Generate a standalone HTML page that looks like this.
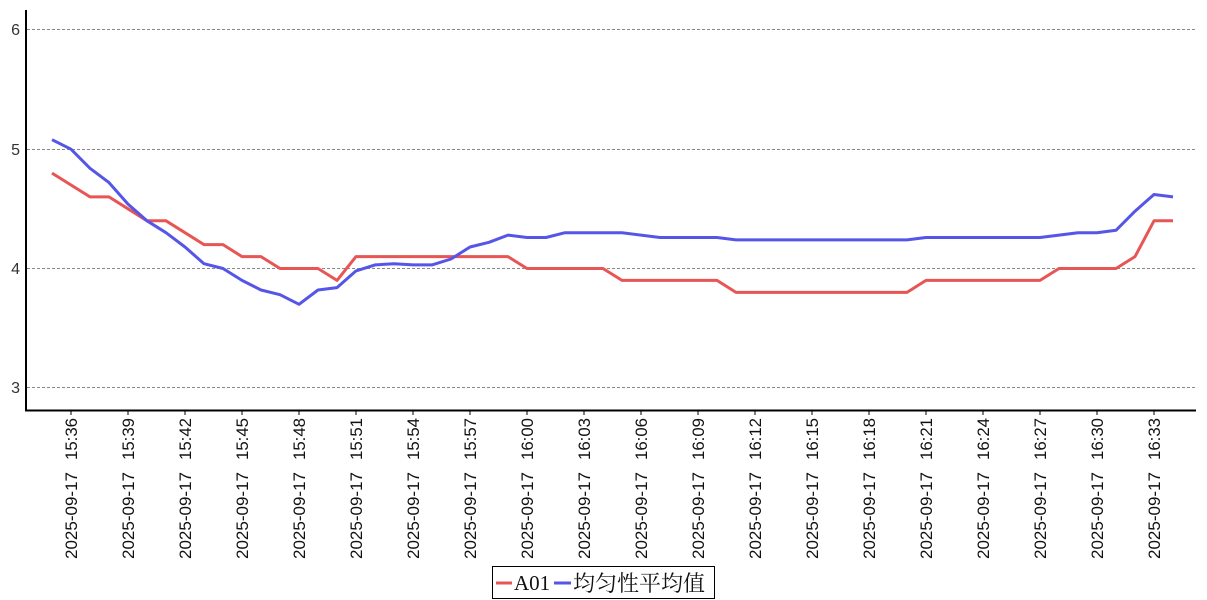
<!DOCTYPE html>
<html><head><meta charset="utf-8"><style>
html,body{margin:0;padding:0;background:#fff;width:1207px;height:600px;overflow:hidden}
svg{display:block}
</style></head><body>
<svg id="s" width="1207" height="600" xmlns="http://www.w3.org/2000/svg" font-family="Liberation Sans, sans-serif">
<g stroke="#888" stroke-dasharray="3,2" stroke-width="1">
<line x1="27" x2="1195" y1="29.5" y2="29.5"/>
<line x1="27" x2="1195" y1="149.5" y2="149.5"/>
<line x1="27" x2="1195" y1="268.5" y2="268.5"/>
<line x1="27" x2="1195" y1="387.5" y2="387.5"/>
</g>
<g stroke="#000" stroke-width="2">
<line x1="26" y1="10" x2="26" y2="411"/>
<line x1="25" y1="410.5" x2="1196" y2="410.5"/>
</g>
<g font-size="16" fill="#333" text-anchor="end">
<text x="20" y="35">6</text><text x="20" y="155">5</text><text x="20" y="274">4</text><text x="20" y="393">3</text>
</g>
<g id="xl" font-family="Liberation Sans, sans-serif" font-size="17" fill="#111"></g>
<polyline id="r" fill="none" stroke="#e85555" stroke-width="3" stroke-linejoin="round"/>
<polyline id="b" fill="none" stroke="#5555e8" stroke-width="3" stroke-linejoin="round"/>
<rect x="492.5" y="566.5" width="222" height="32" fill="#fff" stroke="#000"/>
<line x1="496" x2="512" y1="583" y2="583" stroke="#e85555" stroke-width="3"/>
<text x="514" y="590" font-family="Liberation Serif, Noto Serif CJK SC, serif" font-size="21" fill="#111">A01</text>
<line x1="554" x2="571" y1="583" y2="583" stroke="#5555e8" stroke-width="3"/>
<text x="573" y="591" font-family="Liberation Serif, Noto Serif CJK SC, serif" font-size="22" fill="#111">均匀性平均值</text>
</svg>
<script>
var R=[4.8,4.7,4.6,4.6,4.5,4.4,4.4,4.3,4.2,4.2,4.1,4.1,4.0,4.0,4.0,3.9];
for(var i=16;i<=24;i++)R.push(4.1);for(i=25;i<=29;i++)R.push(4.0);for(i=30;i<=35;i++)R.push(3.9);
for(i=36;i<=45;i++)R.push(3.8);for(i=46;i<=52;i++)R.push(3.9);for(i=53;i<=56;i++)R.push(4.0);R.push(4.1,4.4,4.4);
var B=[5.08,5.0,4.84,4.72,4.54,4.4,4.3,4.18,4.04,4.0,3.9,3.82,3.78,3.7,3.82,3.84,3.98,4.03,4.04,4.03,4.03,4.08,4.18,4.22,4.28,4.26,4.26,4.3,4.3,4.3,4.3,4.28,4.26,4.26,4.26,4.26];
for(i=36;i<=45;i++)B.push(4.24);for(i=46;i<=52;i++)B.push(4.26);B.push(4.28,4.3,4.3,4.32,4.48,4.62,4.6);
function y(v){return 268.5-(v-4)*119.3}
function pts(a){return a.map(function(v,i){return (52+19*i)+","+y(v).toFixed(1)}).join(" ")}
document.getElementById('r').setAttribute('points',pts(R));
document.getElementById('b').setAttribute('points',pts(B));
var g=document.getElementById('xl'),h='';
for(var k=0;k<20;k++){var m=36+3*k,hh=15,mm=m;if(m>=60){hh=16;mm=m-60}
var x=71+57*k;var t=hh+':'+(mm<10?'0':'')+mm;
h+='<line x1="'+x+'" x2="'+x+'" y1="411" y2="415" stroke="#000"/>';
h+='<text transform="translate('+(x+6)+',460) rotate(-90)" textLength="42" lengthAdjust="spacingAndGlyphs">'+t+'</text>';
h+='<text transform="translate('+(x+6)+',559) rotate(-90)" textLength="87" lengthAdjust="spacingAndGlyphs">2025-09-17</text>';}
g.innerHTML=h;
</script>
</body></html>
